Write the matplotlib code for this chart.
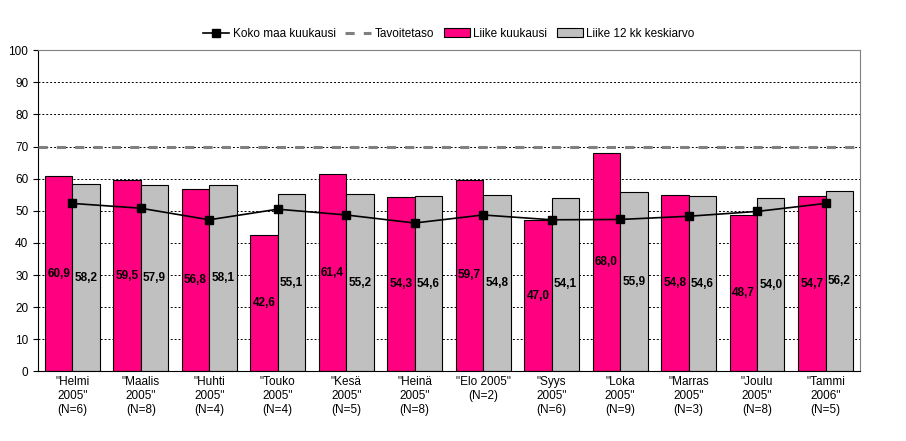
import matplotlib.pyplot as plt
import numpy as np

plt.rcParams['font.family'] = 'Liberation Sans'

categories = ['"Helmi\n2005"\n(N=6)', '"Maalis\n2005"\n(N=8)', '"Huhti\n2005"\n(N=4)',
              '"Touko\n2005"\n(N=4)', '"Kesä\n2005"\n(N=5)', '"Heinä\n2005"\n(N=8)',
              '"Elo 2005"\n(N=2)', '"Syys\n2005"\n(N=6)', '"Loka\n2005"\n(N=9)',
              '"Marras\n2005"\n(N=3)', '"Joulu\n2005"\n(N=8)', '"Tammi\n2006"\n(N=5)']
liike_kk = [60.9, 59.5, 56.8, 42.6, 61.4, 54.3, 59.7, 47.0, 68.0, 54.8, 48.7, 54.7]
liike_12kk = [58.2, 57.9, 58.1, 55.1, 55.2, 54.6, 54.8, 54.1, 55.9, 54.6, 54.0, 56.2]
koko_maa = [52.3, 50.8, 47.2, 50.5, 48.7, 46.2, 48.7, 47.2, 47.3, 48.3, 49.8, 52.3]
tavoite = 70

fig = plt.figure(figsize=(9.06, 4.41), dpi=100)
ax = fig.add_axes([0.042, 0.158, 0.907, 0.728])
x = np.arange(len(categories))
w = 0.4
ax.bar(x - w / 2, liike_kk, w, color='#FF0080', edgecolor='black', linewidth=0.8,
       label='Liike kuukausi', zorder=2)
ax.bar(x + w / 2, liike_12kk, w, color='#C0C0C0', edgecolor='black', linewidth=0.8,
       label='Liike 12 kk keskiarvo', zorder=2)
ax.plot(x, koko_maa, color='black', marker='s', markersize=6, linewidth=1.2,
        label='Koko maa kuukausi', zorder=4)
ax.plot([-0.5, len(x) - 0.5], [tavoite, tavoite], color='#808080', linestyle=(0, (3, 3)),
        linewidth=2.2, label='Tavoitetaso', zorder=3)

for i in range(len(x)):
    ax.text(x[i] - w / 2, liike_kk[i] * 0.5, f'{liike_kk[i]:.1f}'.replace('.', ','),
            ha='center', va='center', fontsize=8.5, fontweight='bold', zorder=5)
    ax.text(x[i] + w / 2, liike_12kk[i] * 0.5, f'{liike_12kk[i]:.1f}'.replace('.', ','),
            ha='center', va='center', fontsize=8.5, fontweight='bold', zorder=5)

ax.set_xlim(-0.5, len(x) - 0.5)
ax.set_ylim(0, 100)
ax.set_yticks(range(0, 101, 10))
ax.set_xticks(x)
ax.set_xticklabels(categories, fontsize=8.5)
ax.tick_params(axis='y', labelsize=8.5)
ax.tick_params(axis='x', length=0)
ax.yaxis.grid(True, color='black', linestyle=(0, (2, 2)), linewidth=0.7, zorder=0)
ax.set_axisbelow(True)
for s in ['top', 'right']:
    ax.spines[s].set_color('#808080')

ax.legend(loc='lower center', bbox_to_anchor=(0.5, 1.0), ncol=4, frameon=False,
          fontsize=8.5, handlelength=2.2, columnspacing=0.8, handletextpad=0.3)

fig.savefig('out.png')
